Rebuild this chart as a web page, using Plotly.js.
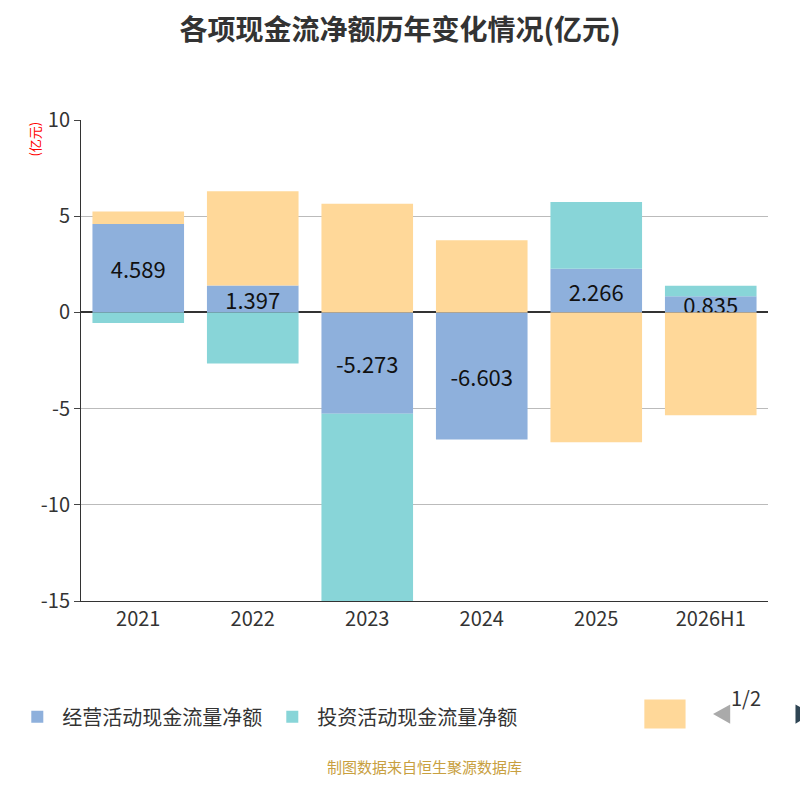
<!DOCTYPE html>
<html><head><meta charset="utf-8">
<script src="https://cdn.plot.ly/plotly-3.0.1.min.js"></script>
<style>body{margin:0}</style></head>
<body><div id="c" style="width:800px;height:800px"></div>
<script>
const categories=["2021","2022","2023","2024","2025","2026H1"];
const operating=[4.589,1.397,-5.273,-6.603,2.266,0.835];
const investing=[-0.55,-2.65,-9.8,0,3.47,0.55];
const financing=[0.65,4.9,5.65,3.75,-6.75,-5.35];
const tickVals=[-15,-10,-5,0,5,10];
const tickText=["-15","-10","-5","0","5","10"];
const font="Noto Sans CJK SC, Noto Sans, sans-serif";
const traces=[
 {type:"bar",name:"经营活动现金流量净额",x:categories,y:operating,marker:{color:"#8eb0dc"},
  text:operating.map(v=>v.toFixed(3)),textposition:"inside",insidetextanchor:"middle",
  textfont:{size:22,color:"#111"},constraintext:"none",cliponaxis:false},
 {type:"bar",name:"投资活动现金流量净额",x:categories,y:investing,marker:{color:"#88d5d8"},textposition:"none"},
 {type:"bar",name:"筹资活动现金流量净额",x:categories,y:financing,marker:{color:"#ffd899"},textposition:"none",showlegend:false}
];
const layout={
 width:800,height:800,barmode:"relative",bargap:0.2,
 font:{family:font,size:20,color:"#333"},
 paper_bgcolor:"#fff",plot_bgcolor:"#fff",
 margin:{l:78,r:32,t:120,b:199},
 title:{text:"<b>各项现金流净额历年变化情况(亿元)</b>",x:0.5,y:0.975,yanchor:"top",font:{size:28,color:"#333",family:font}},
 xaxis:{type:"category",tickfont:{size:20,color:"#333"},showline:true,linecolor:"#333",ticks:"",zeroline:false},
 yaxis:{range:[-15,10],tickvals:tickVals,ticktext:tickText,tickfont:{size:20,color:"#333"},gridcolor:"#bbb",
  zeroline:true,zerolinecolor:"#333",zerolinewidth:1.5,showline:true,linecolor:"#333",ticks:"outside",ticklen:6},
 legend:{orientation:"h",x:-0.1,xanchor:"left",y:-0.2,yanchor:"top",font:{size:20,color:"#333"},itemwidth:40},
 shapes:[
  {type:"rect",xref:"paper",yref:"paper",x0:0.82,x1:0.88,y0:-0.205,y1:-0.265,fillcolor:"#ffd899",line:{width:0}},
  {type:"path",xref:"paper",yref:"paper",path:"M 0.92 -0.235 L 0.945 -0.215 L 0.945 -0.255 Z",fillcolor:"#aaa",line:{width:0}},
  {type:"path",xref:"paper",yref:"paper",path:"M 1.04 -0.215 L 1.065 -0.235 L 1.04 -0.255 Z",fillcolor:"#2f4554",line:{width:0}}
 ],
 annotations:[
  {text:"(亿元)",xref:"paper",yref:"paper",x:-0.085,y:1,yanchor:"top",textangle:-90,showarrow:false,font:{size:13,color:"red"}},
  {text:"1/2",xref:"paper",yref:"paper",x:0.993,y:-0.235,showarrow:false,font:{size:20,color:"#333"}},
  {text:"制图数据来自恒生聚源数据库",xref:"paper",yref:"paper",x:0.5,y:-0.37,showarrow:false,font:{size:15,color:"#c8a040"}}
 ]
};
Plotly.newPlot("c",traces,layout,{displayModeBar:false});
</script></body></html>
